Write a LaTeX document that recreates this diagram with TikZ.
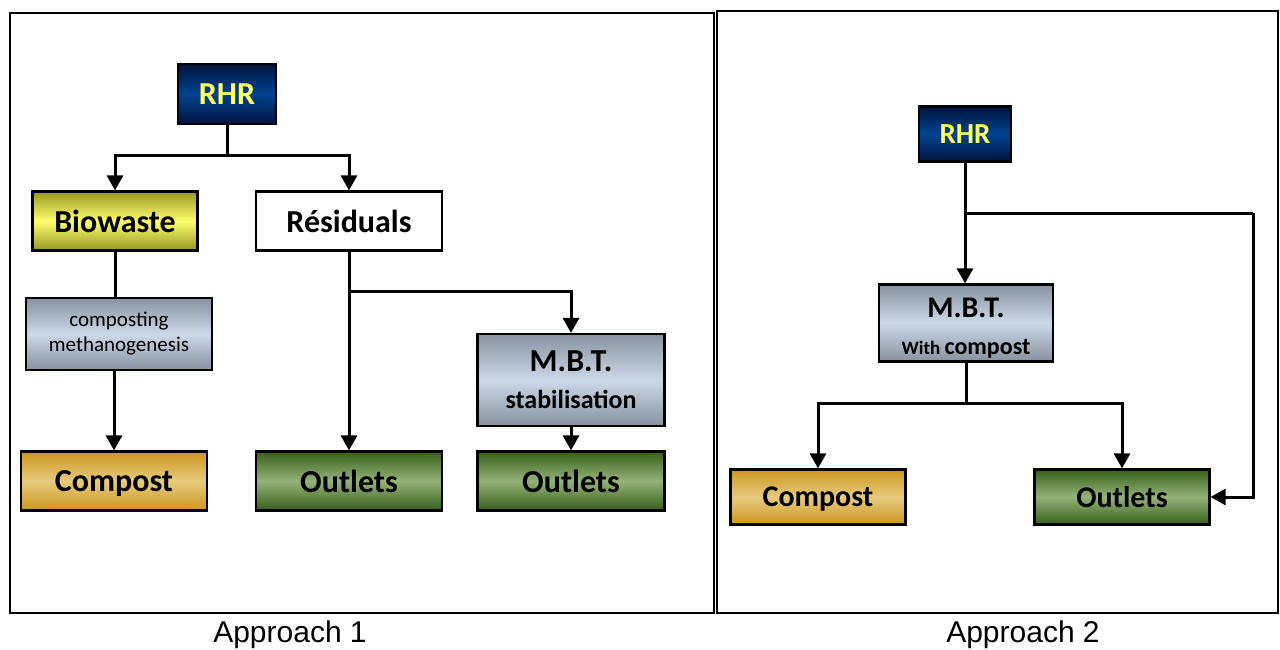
\documentclass[tikz,border=0pt]{standalone}
\usepackage{fontspec}
\setmainfont{Carlito}
\newfontfamily\arialfont{Liberation Sans}
\usetikzlibrary{arrows.meta}
\definecolor{navyE}{RGB}{0,20,60}
\definecolor{navyM}{RGB}{0,66,145}
\definecolor{rhrtext}{RGB}{255,255,100}
\definecolor{yelE}{RGB}{150,150,35}
\definecolor{yelM}{RGB}{255,255,110}
\definecolor{greyE}{RGB}{135,145,160}
\definecolor{greyM}{RGB}{205,216,232}
\definecolor{cmpE}{RGB}{205,150,30}
\definecolor{cmpM}{RGB}{230,202,125}
\definecolor{grnE}{RGB}{55,95,25}
\definecolor{grnM}{RGB}{148,178,122}
\tikzset{
  box/.style={draw=black, line width=2.2pt, inner sep=0pt, align=center, text=black},
  rhrbox/.style={box, top color=navyE, bottom color=navyE, middle color=navyM, text=rhrtext, font=\bfseries},
  biobox/.style={box, top color=yelE, bottom color=yelE, middle color=yelM, font=\bfseries},
  greybox/.style={box, top color=greyE, bottom color=greyE, middle color=greyM},
  cmpbox/.style={box, top color=cmpE, bottom color=cmpE, middle color=cmpM, font=\bfseries},
  grnbox/.style={box, top color=grnE, bottom color=grnE, middle color=grnM, font=\bfseries},
  whitebox/.style={box, fill=white, font=\bfseries},
  conn/.style={line width=3pt, draw=black},
  arr/.style={conn, -{Triangle[width=16pt,length=15pt]}},
  frame/.style={draw=black, line width=2pt},
}
\begin{document}
\begin{tikzpicture}[x=1pt,y=-1pt]
\useasboundingbox (0,0) rectangle (1280,650);
\fill[white] (0,0) rectangle (1280,650);
% frames
\draw[frame] (10,13) rectangle (714,613);
\draw[frame, line width=1.6pt] (717,11) rectangle (1278,613);
% Left panel
\node[rhrbox, minimum width=98pt, minimum height=60pt, font=\bfseries\fontsize{32}{36}\selectfont] (rhr1) at (227,94) {RHR};
\node[biobox, minimum width=165pt, minimum height=59pt, font=\bfseries\fontsize{32}{36}\selectfont] (bio) at (115,221) {Biowaste};
\node[whitebox, minimum width=186pt, minimum height=59pt, font=\bfseries\fontsize{32}{36}\selectfont] (res) at (349,221) {Résiduals};
\node[greybox, minimum width=186pt, minimum height=72pt, font=\fontsize{21}{25}\selectfont] (comp) at (119,334) {composting\\methanogenesis};
\node[greybox, minimum width=187pt, minimum height=92pt, font=\bfseries\fontsize{26}{37}\selectfont] (mbt1) at (571,380) {{\fontsize{32}{37}\selectfont M.B.T.}\\stabilisation};
\node[cmpbox, minimum width=186pt, minimum height=59pt, font=\bfseries\fontsize{32}{36}\selectfont] (cmp1) at (114,481) {Com\smash{p}ost};
\node[grnbox, minimum width=186pt, minimum height=59pt, font=\bfseries\fontsize{32}{36}\selectfont] (out1) at (349,481) {Outlets};
\node[grnbox, minimum width=187pt, minimum height=59pt, font=\bfseries\fontsize{32}{36}\selectfont] (out2) at (571,481) {Outlets};
\coordinate (j1) at (227,156);
\coordinate (j2) at (349,291);
\draw[conn] (rhr1.south) -- (j1);
\draw[arr] (j1) -| (bio.north);
\draw[arr] (j1) -| (res.north);
\draw[conn] (bio.south) -- (comp.north -| bio.south);
\draw[arr] (comp.south -| cmp1.north) -- (cmp1.north);
\draw[arr] (res.south) -- (out1.north);
\draw[arr] (j2) -| (mbt1.north);
\draw[arr] (mbt1.south) -- (out2.north);
% Right panel
\node[rhrbox, minimum width=92pt, minimum height=55pt, font=\bfseries\fontsize{29}{32}\selectfont] (rhr2) at (965,134) {RHR};
\node[greybox, minimum width=174pt, minimum height=77pt, font=\bfseries\fontsize{24}{37}\selectfont] (mbt2) at (966,323) {\rule{0pt}{30pt}{\fontsize{30}{37}\selectfont M.B.T.}\\{\fontsize{19}{37}\selectfont With }compost};
\node[cmpbox, minimum width=175pt, minimum height=55pt, font=\bfseries\fontsize{30}{34}\selectfont] (cmp2) at (818,497) {Com\smash{p}ost};
\node[grnbox, minimum width=175pt, minimum height=55pt, font=\bfseries\fontsize{30}{34}\selectfont] (out3) at (1122,497) {Outlets};
\coordinate (k1) at (965,213);
\coordinate (k2) at (1253,213);
\coordinate (k3) at (966,403);
\draw[arr] (rhr2.south) -- (rhr2.south |- mbt2.north);
\draw[conn] (k1) -- (k2);
\draw[arr] (k2) |- (out3.east);
\draw[conn] (mbt2.south) -- (k3);
\draw[arr] (k3) -| (cmp2.north);
\draw[arr] (k3) -| (out3.north);
% captions
\node[font=\arialfont\fontsize{30}{34}\selectfont, inner sep=0pt] (cap1) at (290,635) {Approach 1};
\node[font=\arialfont\fontsize{30}{34}\selectfont, inner sep=0pt] (cap2) at (1023,635) {Approach 2};
\end{tikzpicture}
\end{document}
